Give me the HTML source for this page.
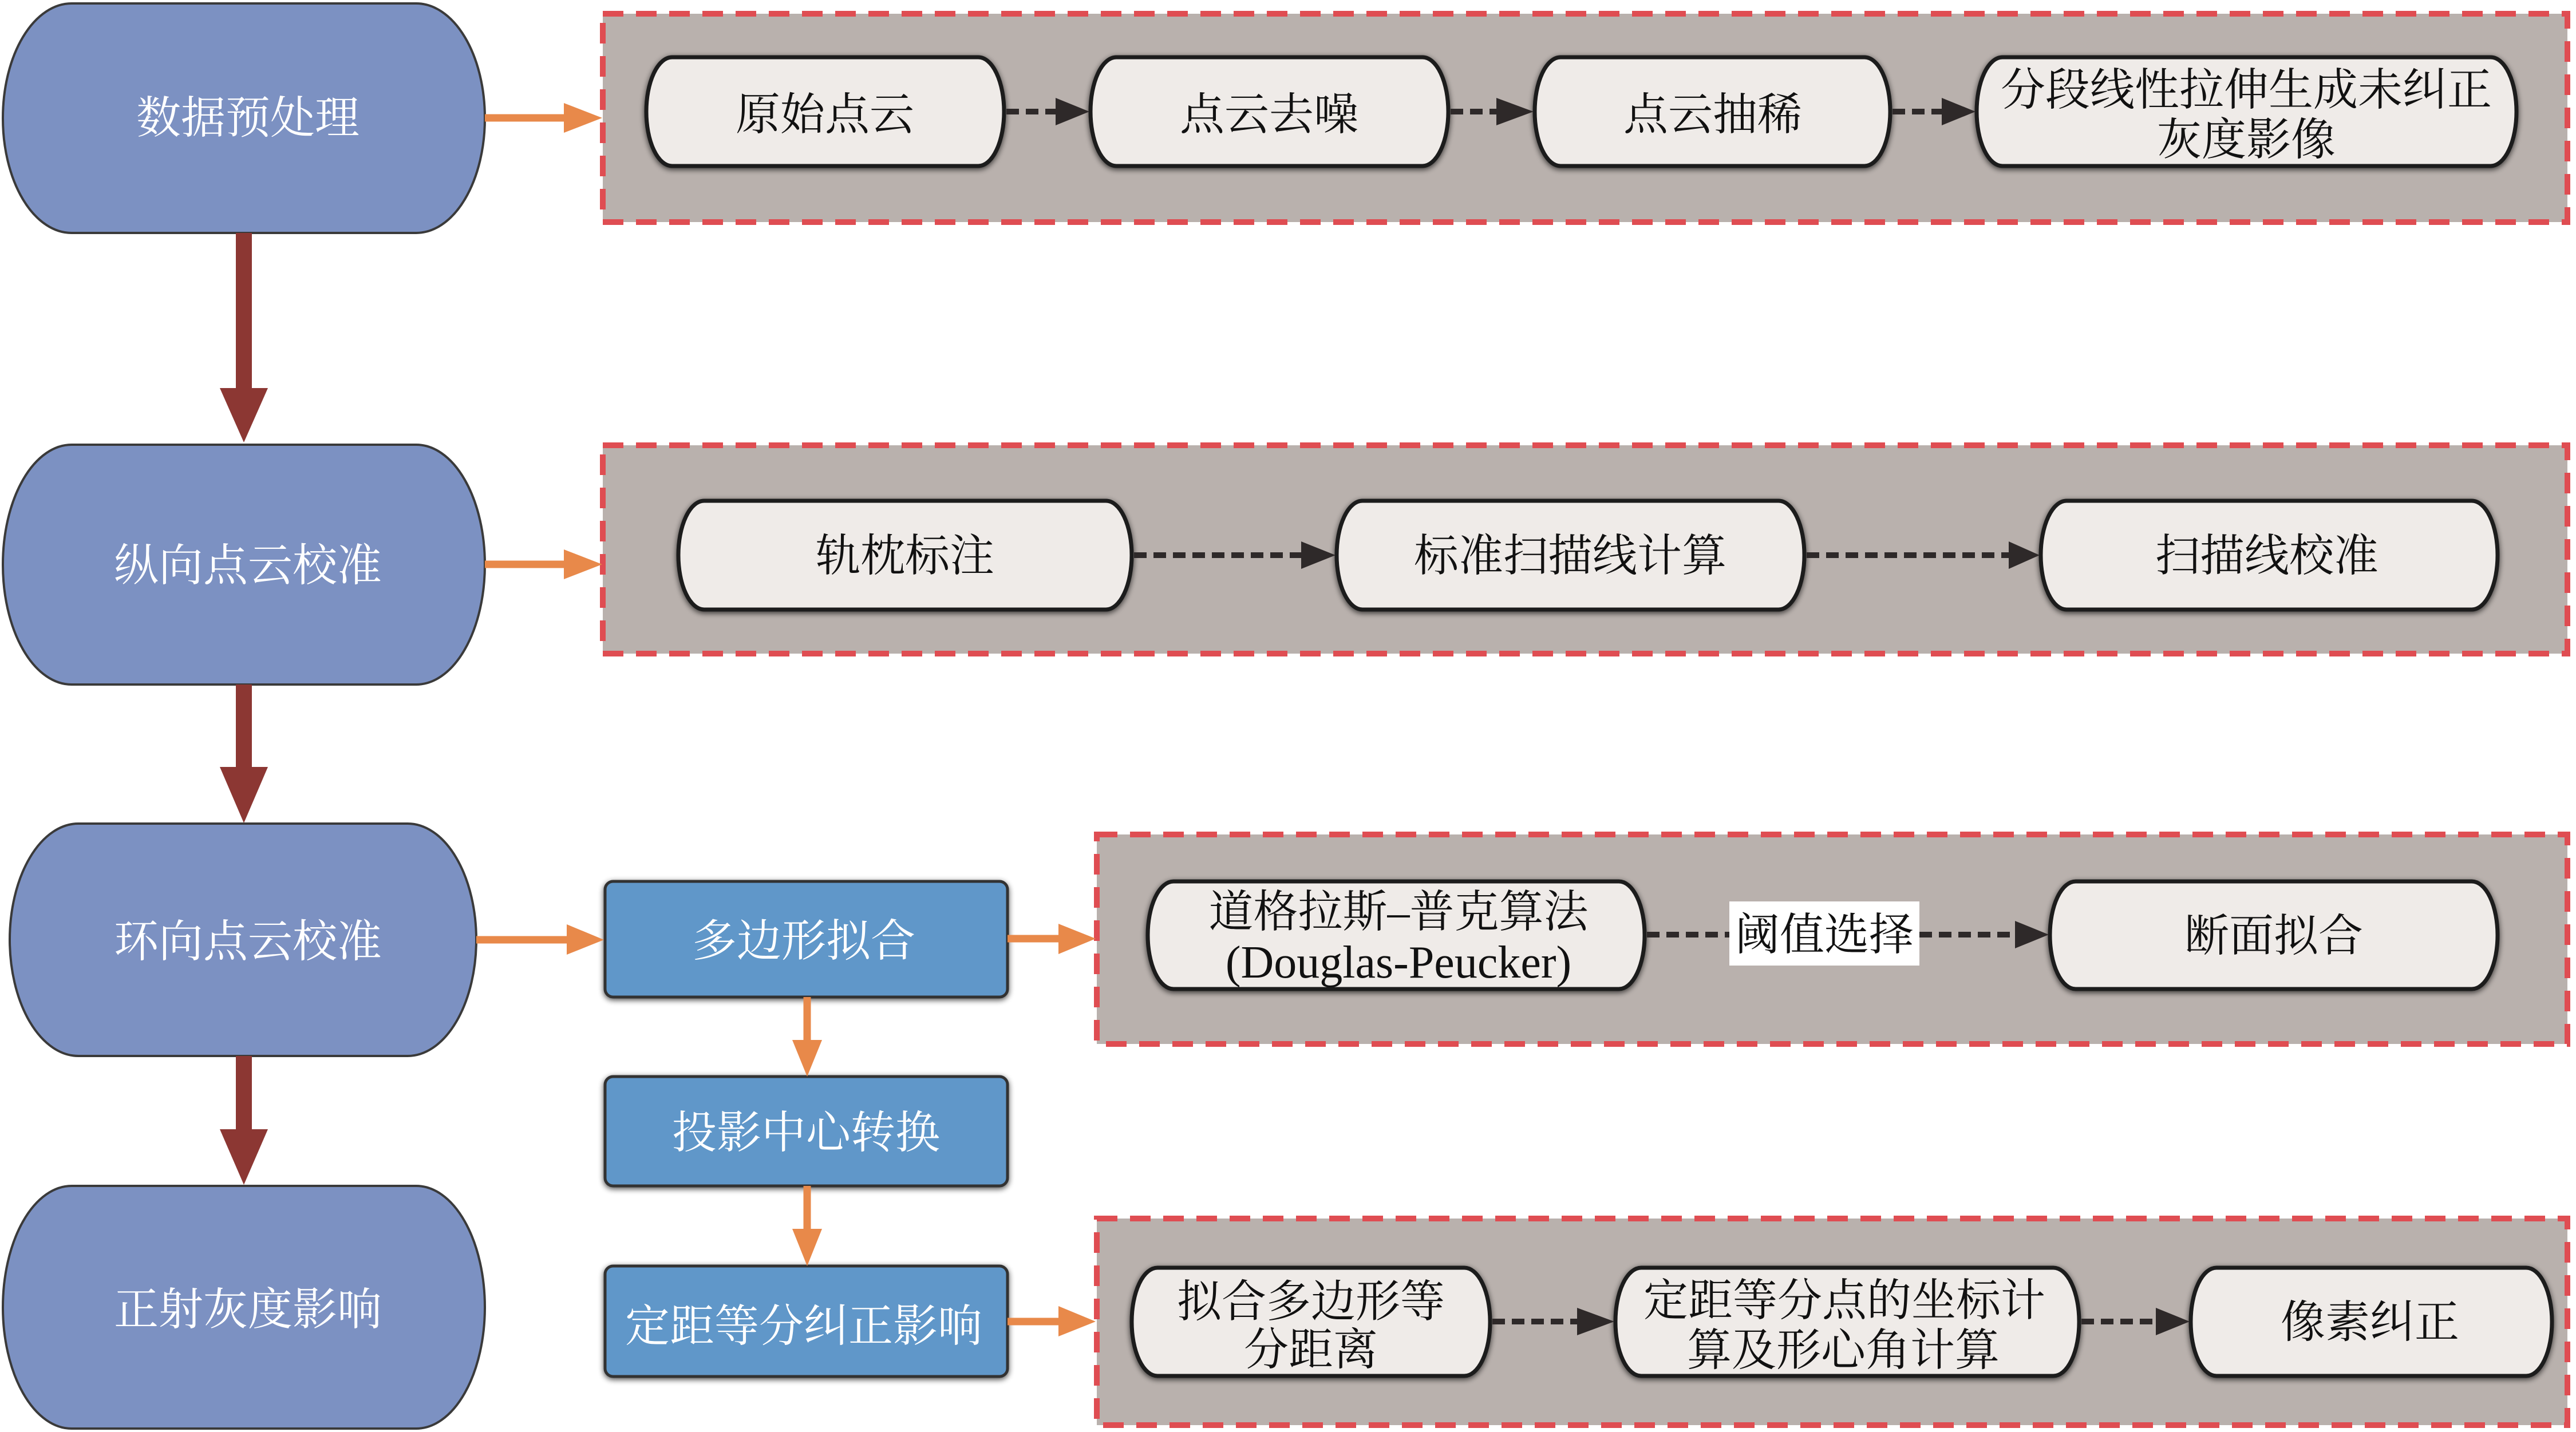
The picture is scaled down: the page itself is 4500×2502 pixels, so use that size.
<!DOCTYPE html>
<html>
<head>
<meta charset="utf-8">
<style>
  html,body{margin:0;padding:0;background:#ffffff;}
  svg{display:block;}
  .cjk{font-family:"Liberation Serif","Noto Serif CJK SC","Noto Sans CJK SC",serif;font-size:78px;}
  .lat{font-family:"Liberation Serif","Noto Serif CJK SC",serif;font-size:80px;}
</style>
</head>
<body>
<svg width="4500" height="2502" viewBox="0 0 4500 2502" xmlns="http://www.w3.org/2000/svg">
  <defs>
    <filter id="sh" x="-10%" y="-20%" width="120%" height="140%">
      <feGaussianBlur in="SourceAlpha" stdDeviation="5"/>
      <feOffset dx="0" dy="3" result="b"/>
      <feComponentTransfer><feFuncA type="linear" slope="0.7"/></feComponentTransfer>
      <feMerge><feMergeNode/><feMergeNode in="SourceGraphic"/></feMerge>
    </filter>
  </defs>

  <!-- dashed grey containers -->
  <g fill="#b9b1ad" stroke="#df4d52" stroke-width="10" stroke-dasharray="36 22">
    <rect x="1053" y="24" width="3432" height="364"/>
    <rect x="1053" y="778" width="3432" height="364"/>
    <rect x="1916" y="1458" width="2569" height="366"/>
    <rect x="1916" y="2129" width="2569" height="361"/>
  </g>

  <!-- left stadium nodes -->
  <g fill="#7c91c2" stroke="#3a3a3a" stroke-width="4">
    <rect x="5" y="6" width="842" height="401" rx="120" ry="200"/>
    <rect x="5" y="777" width="842" height="419" rx="120" ry="209"/>
    <rect x="17" y="1439" width="815" height="406" rx="120" ry="203"/>
    <rect x="5" y="2072" width="842" height="424" rx="120" ry="212"/>
  </g>
  <g class="cjk" fill="#ffffff" text-anchor="middle" dominant-baseline="central">
    <text x="433" y="206">数据预处理</text>
    <text x="433" y="988">纵向点云校准</text>
    <text x="433" y="1645">环向点云校准</text>
    <text x="433" y="2288">正射灰度影响</text>
  </g>

  <!-- red vertical arrows -->
  <g fill="#8c3733">
    <rect x="412" y="407" width="28" height="273"/>
    <polygon points="384,678 468,678 426,773"/>
    <rect x="412" y="1196" width="28" height="146"/>
    <polygon points="384,1340 468,1340 426,1438"/>
    <rect x="412" y="1845" width="28" height="130"/>
    <polygon points="384,1973 468,1973 426,2070"/>
  </g>

  <!-- blue rect boxes -->
  <g fill="#6197c9" stroke="#333333" stroke-width="5" filter="url(#sh)">
    <rect x="1057" y="1540" width="703" height="202" rx="14"/>
    <rect x="1057" y="1881" width="703" height="191" rx="14"/>
    <rect x="1057" y="2212" width="703" height="193" rx="14"/>
  </g>
  <g class="cjk" fill="#ffffff" text-anchor="middle" dominant-baseline="central">
    <text x="1404" y="1644">多边形拟合</text>
    <text x="1408" y="1979">投影中心转换</text>
    <text x="1404" y="2317">定距等分纠正影响</text>
  </g>

  <!-- orange arrows -->
  <g stroke="#e8894a" stroke-width="13" fill="none">
    <line x1="847" y1="206" x2="990" y2="206"/>
    <line x1="847" y1="986" x2="990" y2="986"/>
    <line x1="832" y1="1642" x2="995" y2="1642"/>
    <line x1="1760" y1="1640" x2="1855" y2="1640"/>
    <line x1="1410" y1="1742" x2="1410" y2="1822"/>
    <line x1="1410" y1="2072" x2="1410" y2="2152"/>
    <line x1="1760" y1="2309" x2="1855" y2="2309"/>
  </g>
  <g fill="#e8894a">
    <polygon points="985,180 985,232 1052,206"/>
    <polygon points="985,960 985,1012 1052,986"/>
    <polygon points="990,1615 990,1668 1055,1642"/>
    <polygon points="1849,1614 1849,1667 1914,1640"/>
    <polygon points="1384,1817 1436,1817 1410,1881"/>
    <polygon points="1384,2147 1436,2147 1410,2212"/>
    <polygon points="1849,2282 1849,2335 1914,2309"/>
  </g>

  <!-- white pills -->
  <g fill="#efebe8" stroke="#1c1c1c" stroke-width="7" filter="url(#sh)">
    <rect x="1129" y="100" width="625" height="190" rx="45" ry="95"/>
    <rect x="1905" y="100" width="625" height="190" rx="45" ry="95"/>
    <rect x="2681" y="100" width="621" height="190" rx="45" ry="95"/>
    <rect x="3453" y="100" width="943" height="190" rx="45" ry="95"/>

    <rect x="1185" y="875" width="792" height="190" rx="45" ry="95"/>
    <rect x="2335" y="875" width="817" height="190" rx="45" ry="95"/>
    <rect x="3565" y="875" width="798" height="190" rx="45" ry="95"/>

    <rect x="2005" y="1540" width="868" height="188" rx="45" ry="94"/>
    <rect x="3581" y="1540" width="782" height="188" rx="45" ry="94"/>

    <rect x="1977" y="2215" width="626" height="189" rx="45" ry="94"/>
    <rect x="2822" y="2215" width="810" height="189" rx="45" ry="94"/>
    <rect x="3827" y="2215" width="631" height="189" rx="45" ry="94"/>
  </g>

  <!-- dashed dark connectors -->
  <g stroke="#2e2929" stroke-width="10" stroke-dasharray="22 12" fill="none">
    <line x1="1758" y1="195" x2="1846" y2="195"/>
    <line x1="2534" y1="195" x2="2616" y2="195"/>
    <line x1="3306" y1="195" x2="3394" y2="195"/>
    <line x1="1981" y1="970" x2="2275" y2="970"/>
    <line x1="3156" y1="970" x2="3511" y2="970"/>
    <line x1="2877" y1="1633" x2="3021" y2="1633"/>
    <line x1="3353" y1="1633" x2="3522" y2="1633"/>
    <line x1="2607" y1="2309" x2="2757" y2="2309"/>
    <line x1="3636" y1="2309" x2="3768" y2="2309"/>
  </g>
  <g fill="#2e2929">
    <polygon points="1844,171 1844,219 1903,195"/>
    <polygon points="2614,171 2614,219 2679,195"/>
    <polygon points="3392,171 3392,219 3451,195"/>
    <polygon points="2273,946 2273,994 2333,970"/>
    <polygon points="3509,946 3509,994 3563,970"/>
    <polygon points="3520,1609 3520,1657 3579,1633"/>
    <polygon points="2755,2285 2755,2333 2820,2309"/>
    <polygon points="3766,2285 3766,2333 3825,2309"/>
  </g>

  <!-- threshold label -->
  <rect x="3021" y="1575" width="332" height="112" fill="#ffffff"/>

  <!-- pill texts -->
  <g class="cjk" fill="#111111" text-anchor="middle" dominant-baseline="central">
    <text x="1441" y="200">原始点云</text>
    <text x="2217" y="200">点云去噪</text>
    <text x="2992" y="200">点云抽稀</text>
    <text x="3924" y="157">分段线性拉伸生成未纠正</text>
    <text x="3924" y="244">灰度影像</text>

    <text x="1581" y="971">轨枕标注</text>
    <text x="2743" y="971">标准扫描线计算</text>
    <text x="3960" y="971">扫描线校准</text>

    <text x="2443" y="1593">道格拉斯–普克算法</text>
    <text x="3187" y="1633">阈值选择</text>
    <text x="3972" y="1635">断面拟合</text>

    <text x="2290" y="2274">拟合多边形等</text>
    <text x="2290" y="2358">分距离</text>
    <text x="3222" y="2272">定距等分点的坐标计</text>
    <text x="3220" y="2359">算及形心角计算</text>
    <text x="4140" y="2310">像素纠正</text>
  </g>
  <text class="lat" x="2443" y="1682" fill="#111111" text-anchor="middle" dominant-baseline="central">(Douglas-Peucker)</text>
</svg>
</body>
</html>
